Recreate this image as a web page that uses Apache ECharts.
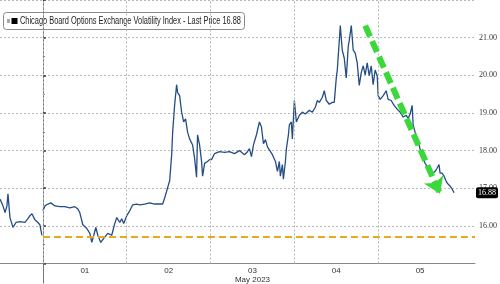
<!DOCTYPE html>
<html><head><meta charset="utf-8">
<script src="https://cdn.jsdelivr.net/npm/echarts@6/dist/echarts.min.js"></script>
<style>html,body{margin:0;padding:0;background:#fff}#c{width:500px;height:284px}</style>
</head><body><div id="c"></div>
<script>
const seriesName = 'Chicago Board Options Exchange Volatility Index - Last Price 16.88';
// time axis in trading days (0 = open of 1 May 2023)
const times = [
 -0.512,-0.476,-0.452,-0.429,-0.417,-0.393,-0.357,-0.321,-0.274,-0.214,-0.179,-0.155,-0.131,-0.095,-0.060,-0.036,-0.012,
 -0.006,
 0.000,0.024,0.060,0.095,0.143,0.202,0.262,0.321,0.381,0.417,0.440,0.476,0.524,0.560,0.583,0.607,0.631,0.655,0.690,0.726,0.774,0.821,0.857,0.881,0.917,0.940,0.964,
 1.000,1.036,1.071,1.119,1.155,1.214,1.274,1.333,1.393,1.429,1.452,1.476,1.500,1.512,1.536,1.548,1.571,1.595,1.607,1.631,1.655,1.679,1.702,1.726,1.750,1.786,1.810,1.833,1.845,1.869,1.893,1.905,1.929,1.964,1.988,
 2.012,2.048,2.107,2.167,2.226,2.286,2.345,2.405,2.440,2.464,2.488,2.512,2.548,2.583,2.607,2.631,2.655,2.679,2.702,2.738,2.774,2.798,2.821,2.833,2.857,2.869,2.893,2.905,2.929,2.940,2.964,2.976,
 3.000,3.024,3.060,3.095,3.131,3.179,3.214,3.250,3.274,3.298,3.333,3.357,3.381,3.417,3.452,3.476,3.500,3.512,3.548,3.571,3.595,3.619,3.643,3.655,3.679,3.702,3.726,3.750,3.774,3.798,3.821,3.845,3.869,3.893,3.917,3.940,3.964,3.988,
 4.000,4.024,4.060,4.095,4.119,4.155,4.190,4.226,4.262,4.298,4.333,4.357,4.381,4.405,4.417,4.440,4.464,4.488,4.512,4.536,4.560,4.583,4.607,4.631,4.655,4.679,4.702,4.726,4.738,4.762,4.786,4.810,4.833,4.857,4.881,4.905
];
const vix = [
 16.71,16.53,16.35,16.53,16.85,16.22,15.96,16.09,16.11,16.09,16.19,16.27,16.32,16.16,16.09,16.03,15.75,
 null,
 16.40,16.53,16.58,16.61,16.53,16.51,16.51,16.48,16.51,16.45,16.35,16.03,15.93,15.80,15.56,15.75,15.96,15.75,15.56,15.67,15.80,15.75,16.06,16.22,16.09,16.19,16.06,
 16.27,16.40,16.56,16.58,16.56,16.58,16.61,16.58,16.58,16.58,16.74,16.92,17.11,17.19,17.89,18.49,19.20,19.75,19.54,19.46,19.02,18.76,18.84,18.49,18.31,18.15,17.79,17.29,18.42,18.15,17.71,17.32,17.66,17.71,17.76,
 17.76,17.92,17.97,17.95,17.97,17.92,18.00,17.89,17.97,18.05,17.84,18.15,18.42,18.76,18.63,18.18,18.29,18.10,18.15,17.89,17.71,17.45,17.71,17.32,17.63,17.24,17.71,18.05,18.42,18.68,18.76,18.31,
 19.33,18.76,18.94,19.02,18.97,19.07,19.02,19.15,19.33,19.28,19.41,19.59,19.33,19.23,19.28,19.28,19.93,20.14,21.32,20.67,20.46,19.93,20.77,20.93,21.32,20.67,20.59,20.33,19.73,20.07,20.25,20.01,20.33,19.99,20.25,19.75,20.14,19.99,
 19.46,19.36,19.46,19.59,19.36,19.33,19.20,19.10,19.02,18.89,18.94,18.86,18.97,19.20,18.68,18.49,18.31,18.15,17.92,17.79,17.66,17.58,17.50,17.45,17.40,17.45,17.53,17.63,17.40,17.40,17.32,17.19,17.11,17.06,16.98,16.88
];
const dayLabels = ['01','02','03','04','05'];
const dayCenters = [0.5,1.5,2.5,3.5,4.5];
const dayBoundaries = [0,1,2,3,4];
const monthLabel = 'May 2023';
const xRange = [-0.512, 5.155];
const yRange = [15, 22];
const lastPrice = 16.88;
const supportLevel = 15.72;
const arrowStart = [3.845, 21.32];
const arrowEnd = [4.738, 16.85];

const data = times.map((t,i)=>[t, vix[i]]);

const chart = echarts.init(document.getElementById('c'), null, {renderer:'canvas'});
chart.setOption({
  animation:false,
  backgroundColor:'#fff',
  grid:{left:0, right:24, top:-3.9, bottom:20.5, containLabel:false},
  graphic:[{
    type:'group', left:3, top:12, z:100,
    children:[
      {type:'rect', shape:{x:0, y:0, width:241, height:17, r:3}, style:{fill:'#fff', stroke:'#8a8a8a', lineWidth:1}},
      {type:'rect', shape:{x:3.5, y:6.5, width:3, height:4}, style:{fill:'#a8a8a8'}},
      {type:'rect', shape:{x:8, y:5.5, width:6, height:6}, style:{fill:'#000'}},
      {type:'text', x:16.5, y:8.8, scaleX:0.74,
        style:{text:seriesName, font:'10px "Liberation Sans"', fill:'#222', verticalAlign:'middle', align:'left'}}
    ]
  }],
  xAxis:{
    type:'value', min:xRange[0], max:xRange[1],
    axisLine:{show:true, lineStyle:{color:'#888', width:1}},
    axisTick:{show:true, customValues:[0], length:20, lineStyle:{color:'#777'}},
    splitLine:{show:false},
    axisLabel:{
      customValues:dayCenters, margin:3,
      formatter:(v)=>{const i=dayCenters.findIndex(c=>Math.abs(c-v)<1e-6); if(i<0) return ''; return i===2 ? '{d|'+dayLabels[i]+'}\n{m|'+monthLabel+'}' : '{d|'+dayLabels[i]+'}';},
      rich:{d:{fontSize:8, color:'#333', fontFamily:'Liberation Sans', lineHeight:9}, m:{fontSize:8, color:'#333', fontFamily:'Liberation Sans', lineHeight:9}}
    }
  },
  yAxis:{
    type:'value', position:'right', min:yRange[0], max:yRange[1], interval:1,
    axisLine:{show:true, lineStyle:{color:'#777'}},
    axisTick:{show:true, length:3, lineStyle:{color:'#333', width:1.5}},
    minorTick:{show:true, splitNumber:2, length:2, lineStyle:{color:'#777'}},
    splitLine:{show:true, lineStyle:{color:'#b8b8b8', type:[2,2], width:1}},
    axisLabel:{margin:4, fontSize:8, color:'#333', fontFamily:'Liberation Serif',
      formatter:(v)=> (v<=yRange[0]||v>=yRange[1]) ? '' : v.toFixed(2)}
  },
  series:[
    {
      type:'line', data:[], z:0, silent:true,
      markLine:{silent:true, symbol:'none', label:{show:false},
        lineStyle:{color:'#b8b8b8', type:[2,2], width:1},
        data: dayBoundaries.map(d=>({xAxis:d}))}
    },
    {
      name:seriesName, type:'line', data:data, showSymbol:false, connectNulls:false,
      lineStyle:{color:'#244d84', width:1.3}, itemStyle:{color:'#000'}, z:3,
      markLine:{
        silent:true, symbol:'none', label:{show:false}, animation:false,
        data:[
          [{coord:[0, supportLevel], lineStyle:{color:'#e8a91d', width:2, type:[7,4]}}, {coord:[xRange[1], supportLevel]}],
          {yAxis:lastPrice, lineStyle:{color:'rgba(0,0,0,0)', width:0},
            label:{show:true, opacity:1, position:'end', formatter:'16.88', distance:1, color:'#fff', backgroundColor:'#000',
              padding:[2,2,1,2], borderRadius:2, fontSize:8, fontFamily:'Liberation Serif'}},
          [{coord:arrowStart, symbol:'none', lineStyle:{color:'#3bd83b', width:6, type:[12,5]}},
           {coord:arrowEnd, symbol:'arrow', symbolSize:[16,16]}]
        ]
      }
    }
  ]
});
</script></body></html>
